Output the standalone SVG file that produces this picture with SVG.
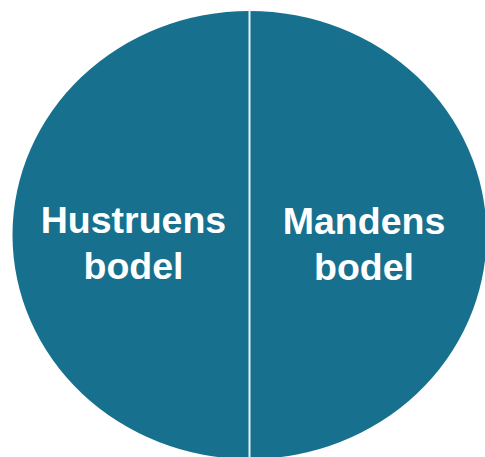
<svg xmlns="http://www.w3.org/2000/svg" width="485" height="457" viewBox="0 0 485 457">
<style>
.seg{fill:#17718E;}
.lbl{font-family:"Liberation Sans",Arial,sans-serif;font-weight:bold;font-size:37.5px;fill:#ffffff;text-anchor:middle;}
</style>
<rect width="485" height="457" fill="#ffffff"/>
<g id="left">
<path class="seg" d="M249.5,11 A237,224 0 0 0 249.5,459 Z"/>
<text class="lbl" x="133.5" y="233">Hustruens</text>
<text class="lbl" x="133.5" y="279">bodel</text>
</g>
<g id="right">
<path class="seg" d="M249.5,11 A237,224 0 0 1 249.5,459 Z"/>
<text class="lbl" x="364" y="234">Mandens</text>
<text class="lbl" x="364" y="280">bodel</text>
</g>
<g id="connectors">
<line x1="249.5" y1="9" x2="249.5" y2="457" stroke="#e6f2f6" stroke-width="2"/>
</g>
</svg>
